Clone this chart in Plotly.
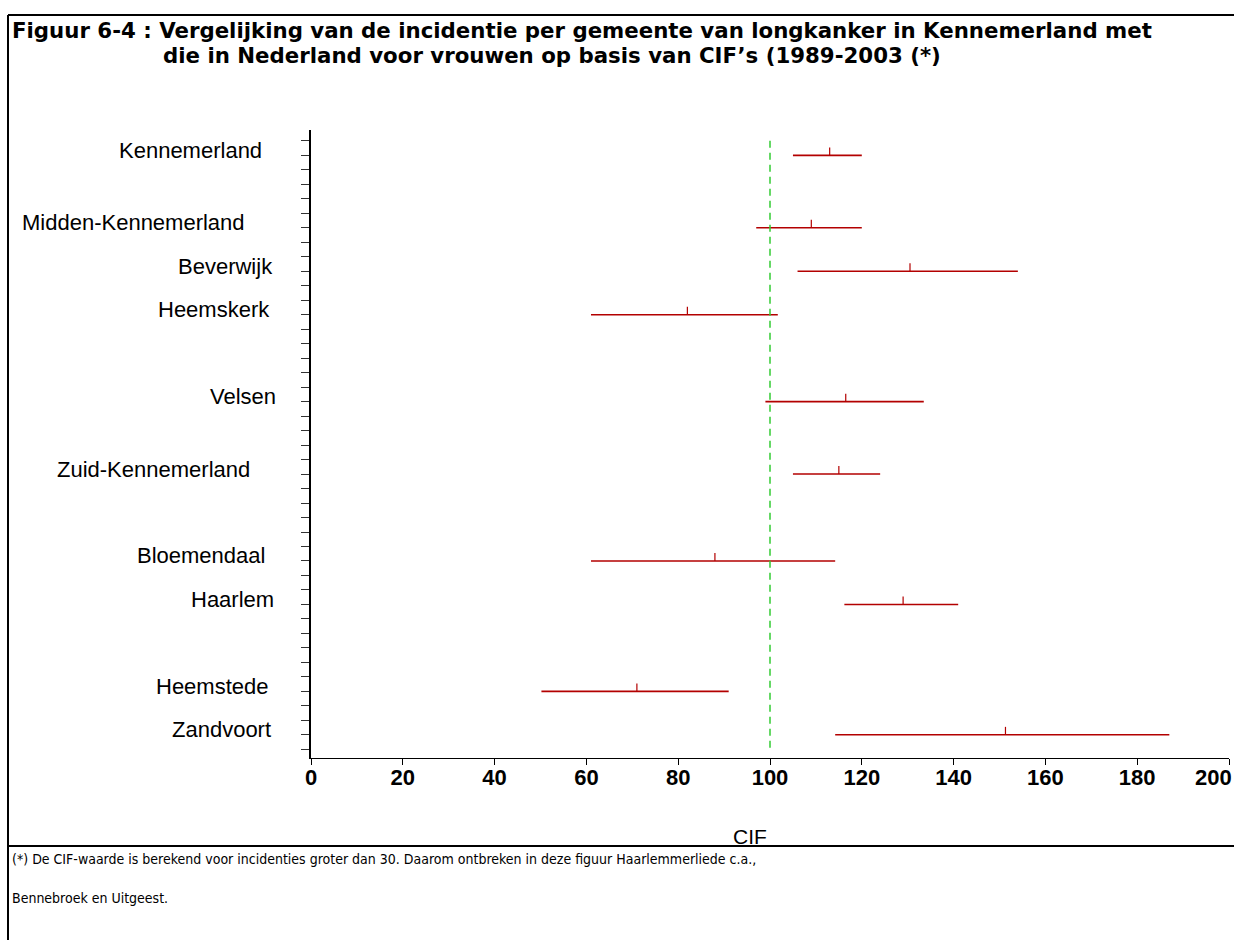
import plotly.graph_objects as go

# Gemeenten / regio's met CIF (schatting) en 95%-betrouwbaarheidsinterval
regions = ["Kennemerland", "Midden-Kennemerland", "Beverwijk", "Heemskerk", "Velsen",
           "Zuid-Kennemerland", "Bloemendaal", "Haarlem", "Heemstede", "Zandvoort"]
cif = [113, 109, 130.5, 82, 116.5, 115, 88, 129, 71, 151.3]
ci_low = [105, 97, 106, 61, 99, 105, 61, 116.2, 50.2, 114.2]
ci_high = [120, 120, 154, 101.7, 133.5, 124, 114.2, 141, 91, 187]
reference = 100  # Nederland = 100
x_ticks = [0, 20, 40, 60, 80, 100, 120, 140, 160, 180, 200]

# layout: row index of each region on the vertical scale (43 tick rows, 0..42)
row_pos = [1, 6, 9, 12, 18, 23, 29, 32, 38, 41]
n_rows = 43
label_left_px = [117, 20, 176, 156, 208, 55, 135, 189, 154, 170]

W, H = 1234, 940
PL, PR, PT, PB = 311, 1229, 130, 758  # plot area in pixels


def px_x(px):
    return (px - PL) / (PR - PL)


def px_y(py):
    return (PB - py) / (PB - PT)


RED = "#b30000"
fig = go.Figure()

# intervals
ix, iy = [], []
for lo, hi, r in zip(ci_low, ci_high, row_pos):
    ix += [lo, hi, None]
    iy += [r, r, None]
fig.add_trace(go.Scatter(x=ix, y=iy, mode="lines", line=dict(color=RED, width=1.6),
                         hoverinfo="skip", showlegend=False))

# point estimates: short upward stroke
tick_h = 0.55
ex, ey = [], []
for v, r in zip(cif, row_pos):
    ex += [v, v, None]
    ey += [r, r - tick_h, None]
fig.add_trace(go.Scatter(x=ex, y=ey, mode="lines", line=dict(color=RED, width=1.2),
                         hoverinfo="skip", showlegend=False))

# reference line Nederland
fig.add_trace(go.Scatter(x=[reference, reference], y=[0, n_rows - 1], mode="lines",
                         line=dict(color="#33cc33", width=1.5, dash="7px,5px"),
                         hoverinfo="skip", showlegend=False))

tick_font = dict(family="Liberation Sans Narrow, Liberation Sans", size=22,
                 color="black", weight="bold")

annotations = []
for name, r, lp in zip(regions, row_pos, label_left_px):
    annotations.append(dict(x=px_x(lp), xref="paper", y=r, yref="y", text=name,
                            showarrow=False, xanchor="left", yanchor="middle", yshift=5,
                            font=dict(family="Liberation Sans, Arial", size=22, color="black")))

# last tick label sits flush against the right edge of the page
annotations.append(dict(x=x_ticks[-1], xref="x", y=0, yref="paper", text=str(x_ticks[-1]),
                        showarrow=False, xanchor="right", yanchor="top", xshift=5, yshift=-5,
                        font=tick_font))

annotations.append(dict(x=px_x(750), xref="paper", y=px_y(836), yref="paper", text="CIF",
                        showarrow=False, xanchor="center", yanchor="middle",
                        font=dict(family="Liberation Sans, Arial", size=21, color="black")))

title_font = dict(family="DejaVu Sans", size=21.3, color="black")
annotations.append(dict(x=px_x(10), xref="paper", y=px_y(30), yref="paper",
                        text="<b>Figuur 6-4 : Vergelijking van de incidentie per gemeente van longkanker in Kennemerland met</b>",
                        showarrow=False, xanchor="left", yanchor="middle", font=title_font))
annotations.append(dict(x=px_x(161), xref="paper", y=px_y(56), yref="paper",
                        text="<b>die in Nederland voor vrouwen op basis van CIF’s (1989-2003 (*)</b>",
                        showarrow=False, xanchor="left", yanchor="middle", font=title_font))

note_font = dict(family="DejaVu Sans Condensed, DejaVu Sans", size=14, color="black")
annotations.append(dict(x=px_x(10), xref="paper", y=px_y(859), yref="paper",
                        text="(*) De CIF-waarde is berekend voor incidenties groter dan 30. Daarom ontbreken in deze figuur Haarlemmerliede c.a.,",
                        showarrow=False, xanchor="left", yanchor="middle", font=note_font))
annotations.append(dict(x=px_x(10), xref="paper", y=px_y(898), yref="paper",
                        text="Bennebroek en Uitgeest.",
                        showarrow=False, xanchor="left", yanchor="middle", font=note_font))

# frame lines
shapes = [
    dict(type="line", xref="paper", yref="paper", x0=px_x(8), x1=px_x(8), y0=px_y(15), y1=px_y(940),
         line=dict(color="black", width=2)),
    dict(type="line", xref="paper", yref="paper", x0=px_x(8), x1=px_x(1240), y0=px_y(15), y1=px_y(15),
         line=dict(color="black", width=2)),
    dict(type="line", xref="paper", yref="paper", x0=px_x(8), x1=px_x(1240), y0=px_y(846), y1=px_y(846),
         line=dict(color="black", width=2)),
]

fig.update_layout(
    width=W, height=H,
    margin=dict(l=PL, r=W - PR, t=PT, b=H - PB, pad=0),
    paper_bgcolor="white", plot_bgcolor="white",
    showlegend=False,
    annotations=annotations,
    shapes=shapes,
    xaxis=dict(range=[0, 200], tickvals=x_ticks,
               ticktext=[str(v) for v in x_ticks[:-1]] + [""],
               showgrid=False, zeroline=False, showline=True, linecolor="black", linewidth=1,
               ticks="outside", ticklen=6, tickcolor="black", tickwidth=1,
               automargin=False, ticklabelstandoff=-6,
               tickfont=tick_font, fixedrange=True),
    yaxis=dict(range=[42.6, -0.75], tickvals=list(range(n_rows)), showticklabels=False,
               showgrid=False, zeroline=False, showline=True, linecolor="black", linewidth=1.5,
               ticks="outside", ticklen=8, tickcolor="#333333", tickwidth=1,
               automargin=False, fixedrange=True),
)

fig.write_html("out.html", config={"displayModeBar": False})
